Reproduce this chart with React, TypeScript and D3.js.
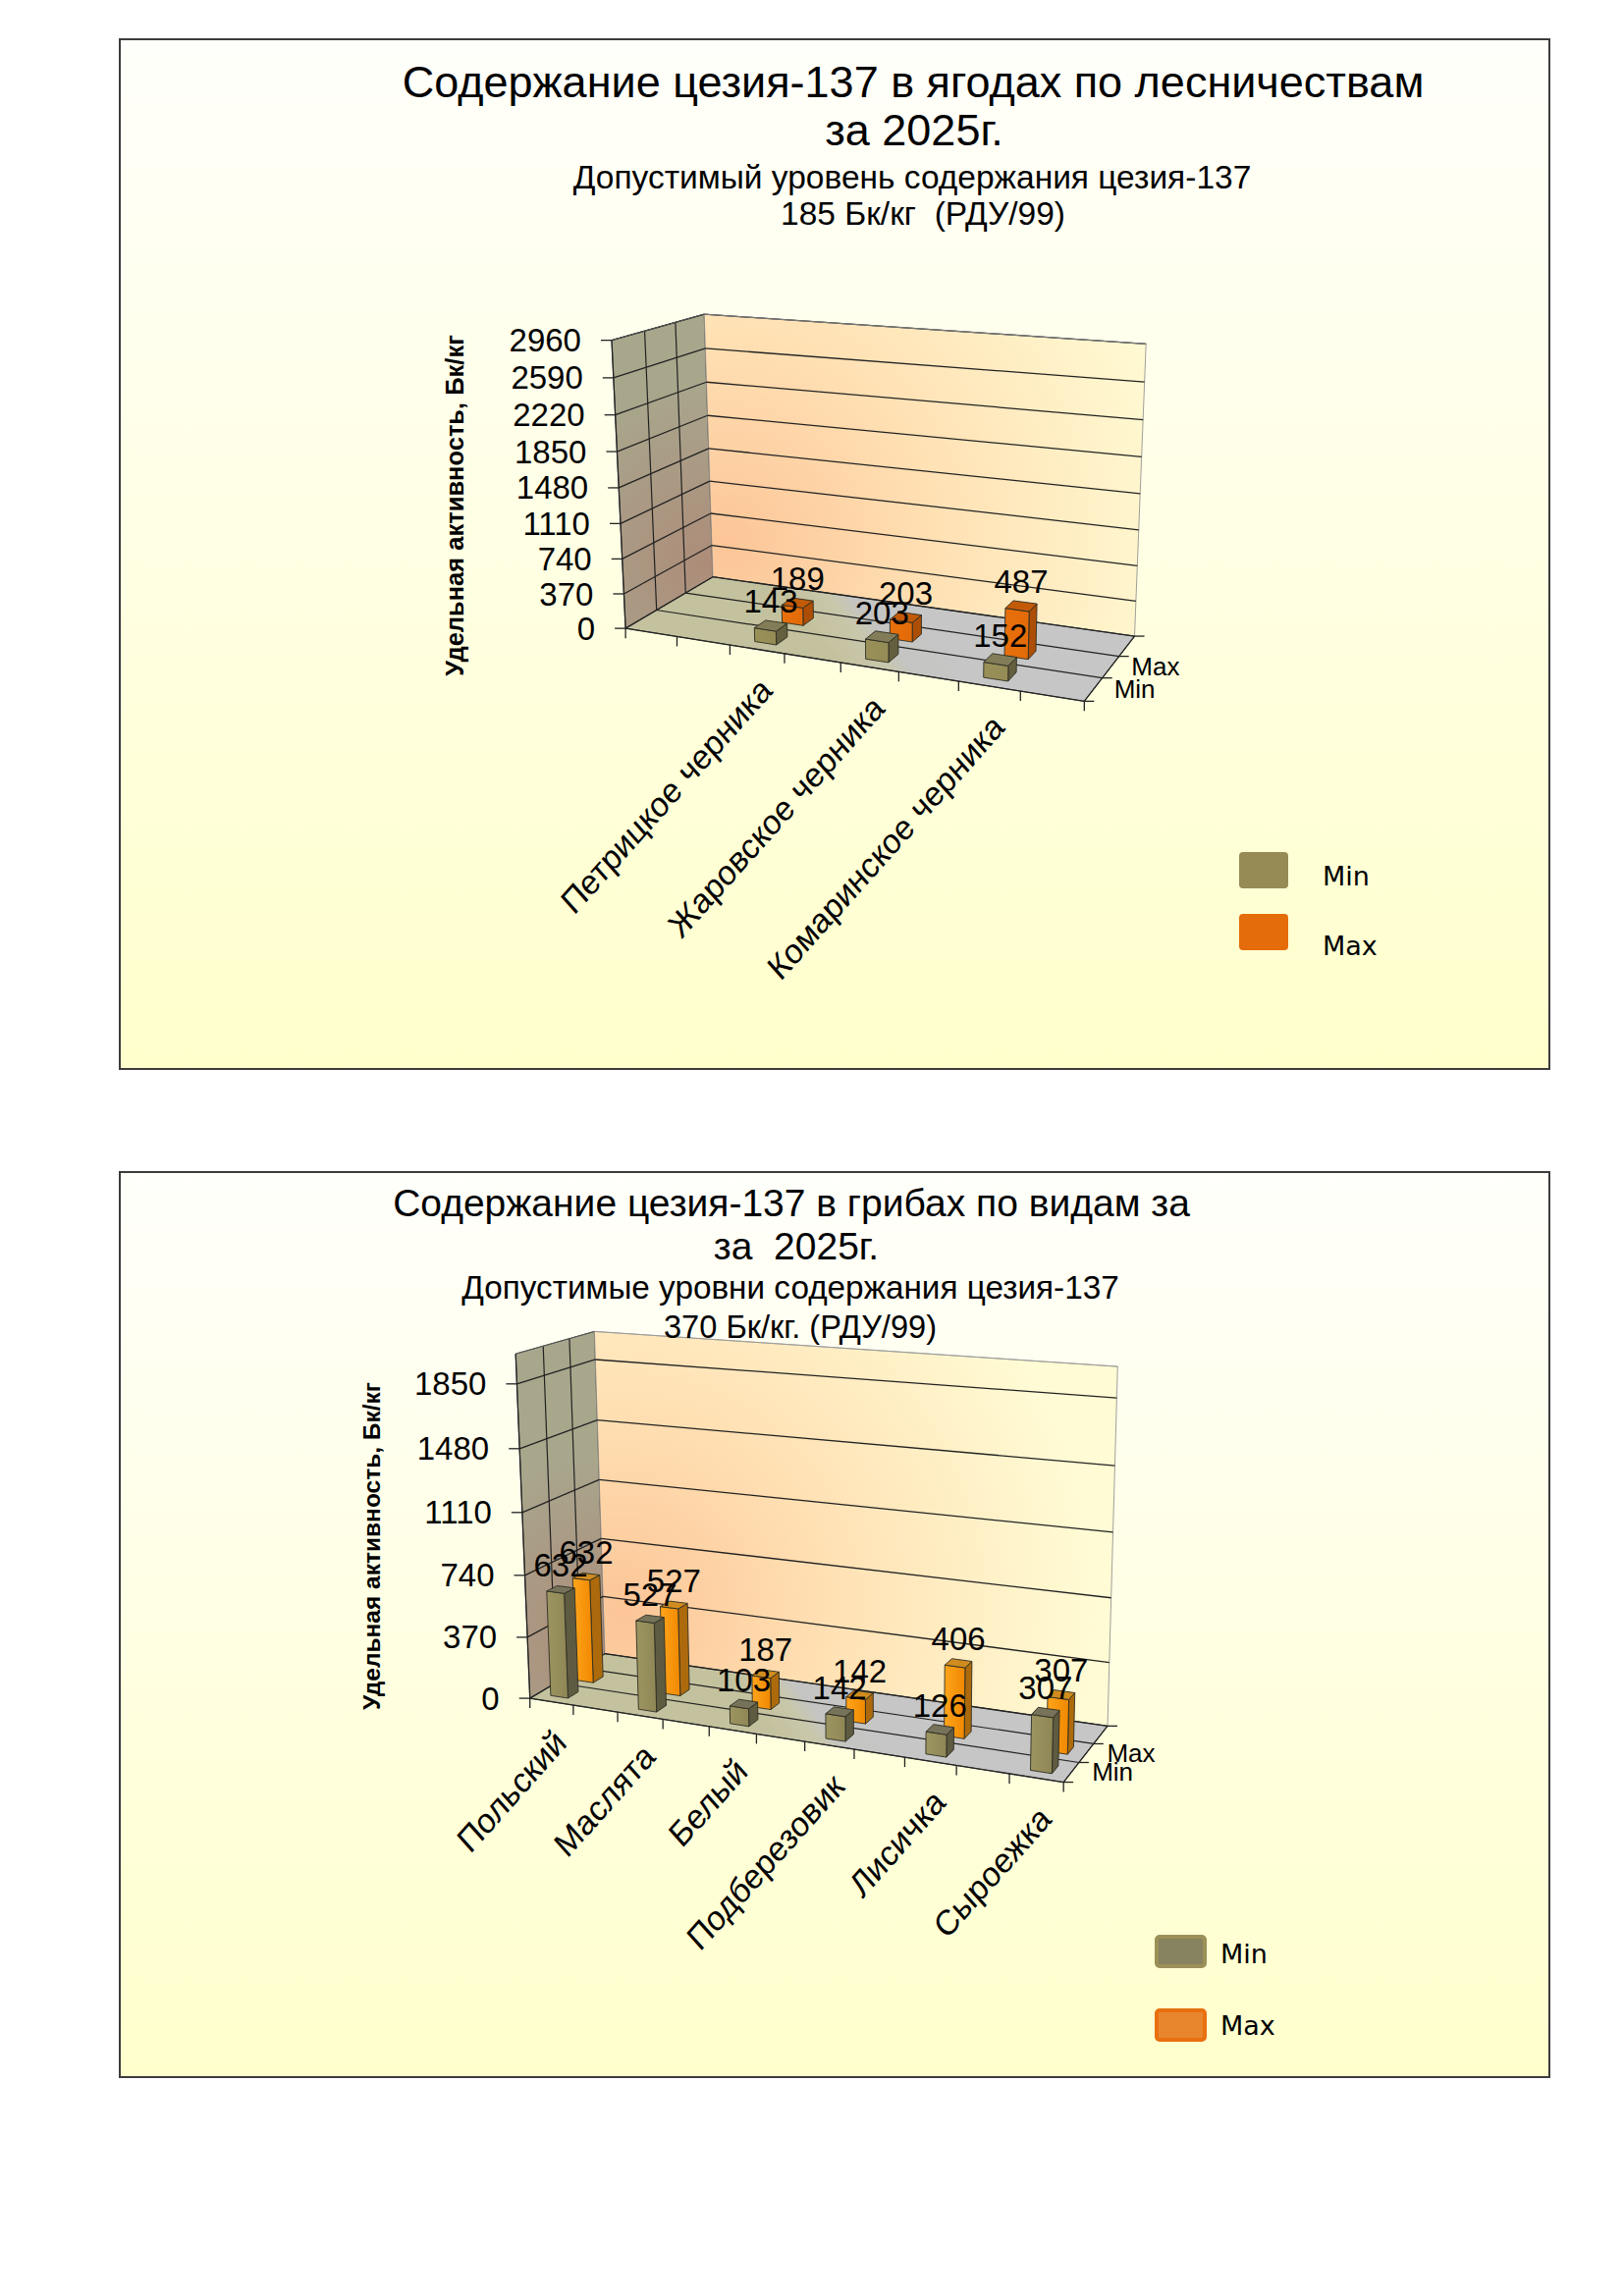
import * as d3 from 'd3';

// ---- chart 1: berries ----
const berryCategories = ['', '', 'Петрицкое черника', '', 'Жаровское черника', '', 'Комаринское черника', ''];
const berryMin = [null, null, 143, null, 203, null, 152, null];
const berryMax = [null, null, 189, null, 203, null, 487, null];
const berryTicks = [0, 370, 740, 1110, 1480, 1850, 2220, 2590, 2960];
const berryAxisMax = 2960;

// ---- chart 2: mushrooms ----
const mushroomCategories = ['Польский', '', 'Маслята', '', 'Белый', '', 'Подберезовик', '', 'Лисичка', '', 'Сыроежка'];
const mushroomMin = [632, null, 527, null, 103, null, 142, null, 126, null, 307];
const mushroomMax = [632, null, 527, null, 187, null, 142, null, 406, null, 307];
const mushroomTicks = [0, 370, 740, 1110, 1480, 1850];
const mushroomAxisMax = 2020;

// depth rows of the 3D plot (third row is empty)
const depthRows = ['Min', 'Max', ''];
const seriesNames = ['Min', 'Max'];

const FONT = "'Liberation Sans', Arial, sans-serif";

type Cal = [number, number, number, number, number];
type Vec = [number, number, number];

// least squares fit of a 3x4 camera matrix to reference points (x, y, z -> px, py)
function fitProjection(cal: Cal[]) {
  const cx = d3.mean(cal, (c) => c[3])!;
  const cy = d3.mean(cal, (c) => c[4])!;
  const s = 300;
  const A: number[][] = [];
  const b: number[] = [];
  cal.forEach(([X, Y, Z, u0, v0]) => {
    const u = (u0 - cx) / s;
    const v = (v0 - cy) / s;
    A.push([X, Y, Z, 1, 0, 0, 0, 0, -u * X, -u * Y, -u * Z]);
    b.push(u);
    A.push([0, 0, 0, 0, X, Y, Z, 1, -v * X, -v * Y, -v * Z]);
    b.push(v);
  });
  const n = 11;
  const M = d3.range(n).map((i) => {
    const row = d3.range(n).map((j) => d3.sum(A, (r) => r[i] * r[j]));
    row.push(d3.sum(A, (r, k) => r[i] * b[k]));
    return row;
  });
  for (let c = 0; c < n; c++) {
    let p = c;
    for (let r = c + 1; r < n; r++) if (Math.abs(M[r][c]) > Math.abs(M[p][c])) p = r;
    [M[c], M[p]] = [M[p], M[c]];
    for (let r = 0; r < n; r++) {
      if (r === c) continue;
      const f = M[r][c] / M[c][c];
      for (let k = c; k <= n; k++) M[r][k] -= f * M[c][k];
    }
  }
  const p = M.map((row, i) => row[n] / row[i]);
  return (X: number, Y: number, Z: number): [number, number] => {
    const w = p[8] * X + p[9] * Y + p[10] * Z + 1;
    return [
      cx + (s * (p[0] * X + p[1] * Y + p[2] * Z + p[3])) / w,
      cy + (s * (p[4] * X + p[5] * Y + p[6] * Z + p[7])) / w,
    ];
  };
}

interface BarColors {
  front: string[];
  top: string;
  side: string;
}

interface ChartProps {
  id: string;
  box: [number, number, number, number];
  titles: { text: string; x: number; y: number; size: number }[];
  categories: string[];
  minValues: (number | null)[];
  maxValues: (number | null)[];
  ticks: number[];
  axisMax: number;
  cal: Cal[];
  axisTitle: { x: number; y: number; size: number };
  legend: { x: number; y: number[]; tx: number; ty: number[]; w: number; h: number; stroke: boolean };
  legendFill: string[];
  legendStroke: string[];
  barColors: BarColors[];
}

function Chart3D(props: ChartProps) {
  const { id, box, titles, categories, minValues, maxValues, ticks, axisMax, cal, axisTitle, legend } = props;
  const proj = fitProjection(cal);
  const n = categories.length;
  const xBand = d3.scaleBand<number>().domain(d3.range(n)).range([0, 1]);
  const zBand = d3.scaleBand<string>().domain(depthRows).range([0, 1]);
  const y = d3.scaleLinear().domain([0, axisMax]).range([0, 1]);
  const bw = xBand.bandwidth();
  const dw = zBand.bandwidth();

  const pts = (arr: Vec[]) => arr.map((q) => proj(q[0], q[1], q[2]).map((v) => v.toFixed(1)).join(',')).join(' ');
  const line = (a: Vec, b: Vec) => {
    const [x1, y1] = proj(...a);
    const [x2, y2] = proj(...b);
    return { x1, y1, x2, y2 };
  };

  const series = [
    { name: seriesNames[0], values: minValues, colors: props.barColors[0] },
    { name: seriesNames[1], values: maxValues, colors: props.barColors[1] },
  ];

  // bars, back row first, left to right
  const bars = [...series].reverse().flatMap((s) =>
    s.values.flatMap((v, i) => {
      if (v == null) return [];
      const x0 = xBand(i)! + bw * 0.3;
      const x1 = x0 + bw * 0.4;
      const z0 = zBand(s.name)! + dw * 0.3;
      const z1 = z0 + dw * 0.4;
      const h = y(v);
      return [{ key: `${s.name}-${i}`, s, v, x0, x1, z0, z1, h }];
    })
  );

  const gridFloorZ = [dw, 2 * dw];
  const floorA = proj(0.5, 0, 0);
  const floorB = proj(0.5, 0, 1);
  const backC = proj(0.04, 0.14, 1);
  const leftC = proj(0, 0.05, 1);

  return (
    <g>
      <defs>
        <linearGradient id={`${id}-bg`} x1="0" y1="0" x2="0" y2="1">
          <stop offset="0" stopColor="#fffffb" />
          <stop offset="1" stopColor="#ffffcc" />
        </linearGradient>
        <radialGradient id={`${id}-back`} gradientUnits="userSpaceOnUse" cx={backC[0]} cy={backC[1]} r={480}>
          <stop offset="0" stopColor="#fcc597" />
          <stop offset="0.45" stopColor="#ffe1b4" />
          <stop offset="1" stopColor="#fffbd4" />
        </radialGradient>
        <radialGradient id={`${id}-left`} gradientUnits="userSpaceOnUse" cx={leftC[0]} cy={leftC[1]} r={190}>
          <stop offset="0" stopColor="#ad8c78" />
          <stop offset="0.6" stopColor="#aa9c86" />
          <stop offset="1" stopColor="#a8a78c" />
        </radialGradient>
        <linearGradient id={`${id}-floor`} gradientUnits="userSpaceOnUse" x1={floorA[0]} y1={floorA[1]} x2={floorB[0]} y2={floorB[1]}>
          <stop offset="0" stopColor="#c4c29e" />
          <stop offset="0.35" stopColor="#c9c7ab" />
          <stop offset="0.55" stopColor="#c4c4c2" />
          <stop offset="1" stopColor="#c6c6c6" />
        </linearGradient>
        {series.map((s, k) => (
          <linearGradient key={k} id={`${id}-front${k}`} x1="0" y1="0" x2="1" y2="0">
            <stop offset="0" stopColor={s.colors.front[0]} />
            <stop offset="1" stopColor={s.colors.front[1]} />
          </linearGradient>
        ))}
      </defs>

      <rect x={box[0]} y={box[1]} width={box[2]} height={box[3]} fill={`url(#${id}-bg)`} stroke="#3c3c3c" strokeWidth={2} />

      {/* walls and floor */}
      <polygon points={pts([[0, 0, 0], [0, 1, 0], [0, 1, 1], [0, 0, 1]])} fill={`url(#${id}-left)`} stroke="#555" strokeWidth={1} />
      <polygon points={pts([[0, 0, 1], [0, 1, 1], [1, 1, 1], [1, 0, 1]])} fill={`url(#${id}-back)`} stroke="#888" strokeWidth={0.8} />
      <polygon points={pts([[0, 0, 0], [1, 0, 0], [1, 0, 1], [0, 0, 1]])} fill={`url(#${id}-floor)`} stroke="#444" strokeWidth={1} />

      {/* value gridlines on walls */}
      {ticks.map((t) => (
        <g key={t} stroke="#222" strokeWidth={1.3}>
          <line {...line([0, y(t), 0], [0, y(t), 1])} />
          <line {...line([0, y(t), 1], [1, y(t), 1])} />
        </g>
      ))}
      {gridFloorZ.map((z) => (
        <g key={z} stroke="#222" strokeWidth={1.2}>
          <line {...line([0, 0, z], [0, 1, z])} />
          <line {...line([0, 0, z], [1, 0, z])} />
        </g>
      ))}
      <line {...line([0, 1, 0], [0, 1, 1])} stroke="#555" strokeWidth={1} />
      <line {...line([0, 1, 1], [1, 1, 1])} stroke="#999" strokeWidth={0.8} />

      {/* axes */}
      <g stroke="#222" strokeWidth={1.3}>
        <line {...line([0, 0, 0], [0, 1, 0])} />
        <line {...line([0, 0, 0], [1, 0, 0])} />
        <line {...line([1, 0, 0], [1, 0, 1])} />
        {ticks.map((t) => {
          const [px, py] = proj(0, y(t), 0);
          return <line key={`vt${t}`} x1={px - 11} y1={py} x2={px} y2={py} />;
        })}
        {d3.range(n + 1).map((k) => {
          const [px, py] = proj(k === n ? 1 : xBand(k)!, 0, 0);
          return <line key={`ct${k}`} x1={px} y1={py} x2={px} y2={py + 10} />;
        })}
        {d3.range(depthRows.length + 1).map((k) => {
          const [px, py] = proj(1, 0, k === depthRows.length ? 1 : zBand(depthRows[k])!);
          return <line key={`dt${k}`} x1={px} y1={py} x2={px + 10} y2={py} />;
        })}
      </g>

      {/* bars */}
      {bars.map((b) => {
        const k = b.s.name === seriesNames[0] ? 0 : 1;
        return (
          <g key={b.key} stroke="#2e2e22" strokeWidth={0.9} strokeLinejoin="round">
            <polygon points={pts([[b.x1, 0, b.z0], [b.x1, 0, b.z1], [b.x1, b.h, b.z1], [b.x1, b.h, b.z0]])} fill={b.s.colors.side} />
            <polygon points={pts([[b.x0, 0, b.z0], [b.x1, 0, b.z0], [b.x1, b.h, b.z0], [b.x0, b.h, b.z0]])} fill={`url(#${id}-front${k})`} />
            <polygon points={pts([[b.x0, b.h, b.z0], [b.x1, b.h, b.z0], [b.x1, b.h, b.z1], [b.x0, b.h, b.z1]])} fill={b.s.colors.top} />
          </g>
        );
      })}

      {/* data labels */}
      {bars.map((b) => {
        const [px, py] = proj((b.x0 + b.x1) / 2, b.h, (b.z0 + b.z1) / 2);
        return (
          <text key={`l${b.key}`} x={px} y={py - 13} textAnchor="middle" fontFamily={FONT} fontSize={33} fill="#000">
            {b.v}
          </text>
        );
      })}

      {/* value axis labels */}
      {ticks.map((t) => {
        const [px, py] = proj(0, y(t), 0);
        return (
          <text key={`vl${t}`} x={px - 31} y={py} dy="0.35em" textAnchor="end" fontFamily={FONT} fontSize={33}>
            {t}
          </text>
        );
      })}

      {/* category labels */}
      {categories.map((c, i) => {
        if (!c) return null;
        const [px, py] = proj(xBand(i)! + bw / 2, 0, 0);
        return (
          <text
            key={`cl${i}`}
            transform={`translate(${px + 17},${py + 44}) scale(1,1.12) rotate(-45)`}
            textAnchor="end"
            fontFamily={FONT}
            fontSize={32}
          >
            {c}
          </text>
        );
      })}

      {/* depth labels */}
      {depthRows.map((r) => {
        if (!r) return null;
        const [px, py] = proj(1, 0, zBand(r)! + dw / 2);
        return (
          <text key={`dl${r}`} x={px + 21} y={py + 9} fontFamily={FONT} fontSize={26}>
            {r}
          </text>
        );
      })}

      <text transform={`translate(${axisTitle.x},${axisTitle.y}) rotate(-90)`} textAnchor="middle" dy="0.35em" fontFamily={FONT} fontWeight="bold" fontSize={axisTitle.size}>
        Удельная активность, Бк/кг
      </text>

      {titles.map((t, i) => (
        <text key={`t${i}`} x={t.x} y={t.y} textAnchor="middle" fontFamily={FONT} fontSize={t.size} style={{ whiteSpace: 'pre' }}>
          {t.text}
        </text>
      ))}

      {/* legend */}
      {seriesNames.map((s, k) => (
        <g key={`lg${s}`}>
          <rect
            x={legend.x}
            y={legend.y[k]}
            width={legend.w}
            height={legend.h}
            rx={legend.stroke ? 3 : 4}
            fill={props.legendFill[k]}
            stroke={legend.stroke ? props.legendStroke[k] : 'none'}
            strokeWidth={legend.stroke ? 4 : 0}
          />
          <text x={legend.tx} y={legend.ty[k]} fontFamily="'DejaVu Sans', Verdana, sans-serif" fontSize={27}>
            {s}
          </text>
        </g>
      ))}
    </g>
  );
}

const berryCal: Cal[] = [
  [0, 0, 0, 636, 640],
  [1, 0, 0, 1102, 714],
  [1, 0, 1, 1156, 648],
  [0, 0, 1, 725, 588],
  [0, 1, 0, 624, 345],
  [0, 1, 1, 717, 320],
  [1, 1, 1, 1167, 351],
  [0.5, 0, 0, 855, 675],
  [0, 0.5, 0, 630, 499],
  [0, 0.5, 1, 721, 457],
  [1, 0, 1 / 3, 1127, 691],
  [1, 0, 2 / 3, 1138, 668],
  [0, 0, 1 / 3, 670, 622],
  [0, 0, 2 / 3, 700, 603],
];

const mushroomCal: Cal[] = [
  [0, 0, 0, 541, 1730],
  [1, 0, 0, 1079, 1816],
  [1, 0, 1, 1125, 1758],
  [0, 0, 1, 615, 1685],
  [0, 1, 0, 525, 1379],
  [0, 1, 1, 606, 1356],
  [1, 1, 1, 1138, 1393],
  [6 / 11, 0, 0, 818, 1774],
  [0, 1850 / 2020, 0, 526, 1409],
  [0, 740 / 2020, 0, 535, 1606],
  [1, 0, 1 / 3, 1104, 1795],
  [1, 0, 2 / 3, 1117, 1776],
];

export default function App() {
  return (
    <svg width={1654} height={2339} style={{ position: 'absolute', left: 0, top: 0, background: '#fff' }}>
      <Chart3D
        id="c1"
        box={[122, 40, 1456, 1049]}
        titles={[
          { text: 'Содержание цезия-137 в ягодах по лесничествам', x: 930, y: 99, size: 45 },
          { text: 'за 2025г.', x: 931, y: 148, size: 45 },
          { text: 'Допустимый уровень содержания цезия-137', x: 929, y: 192, size: 33.5 },
          { text: '185 Бк/кг  (РДУ/99)', x: 940, y: 229, size: 33.5 },
        ]}
        categories={berryCategories}
        minValues={berryMin}
        maxValues={berryMax}
        ticks={berryTicks}
        axisMax={berryAxisMax}
        cal={berryCal}
        axisTitle={{ x: 463, y: 515, size: 25.5 }}
        legend={{ x: 1262, y: [868, 931], tx: 1347, ty: [902, 973], w: 50, h: 37, stroke: false }}
        legendFill={['#968b55', '#e46c0a']}
        legendStroke={['none', 'none']}
        barColors={[
          { front: ['#9a9159', '#948b55'], top: '#827d58', side: '#645f3e' },
          { front: ['#e8700c', '#e26a08'], top: '#c25a08', side: '#ad4e06' },
        ]}
      />
      <Chart3D
        id="c2"
        box={[122, 1194, 1456, 922]}
        titles={[
          { text: 'Содержание цезия-137 в грибах по видам за', x: 806, y: 1239, size: 39 },
          { text: 'за  2025г.', x: 811, y: 1283, size: 39 },
          { text: 'Допустимые уровни содержания цезия-137', x: 805, y: 1323, size: 33.3 },
          { text: '370 Бк/кг. (РДУ/99)', x: 815, y: 1363, size: 32.6 },
        ]}
        categories={mushroomCategories}
        minValues={mushroomMin}
        maxValues={mushroomMax}
        ticks={mushroomTicks}
        axisMax={mushroomAxisMax}
        cal={mushroomCal}
        axisTitle={{ x: 378, y: 1575, size: 24.5 }}
        legend={{ x: 1178, y: [1973, 2048], tx: 1243, ty: [2000, 2073], w: 49, h: 30, stroke: true }}
        legendFill={['#878260', '#e8862e']}
        legendStroke={['#9b9058', '#e8700f']}
        barColors={[
          { front: ['#9d9560', '#8e8656'], top: '#77735a', side: '#5f5b41' },
          { front: ['#ffa51c', '#f08800'], top: '#d08c1e', side: '#ad6a0c' },
        ]}
      />
    </svg>
  );
}
